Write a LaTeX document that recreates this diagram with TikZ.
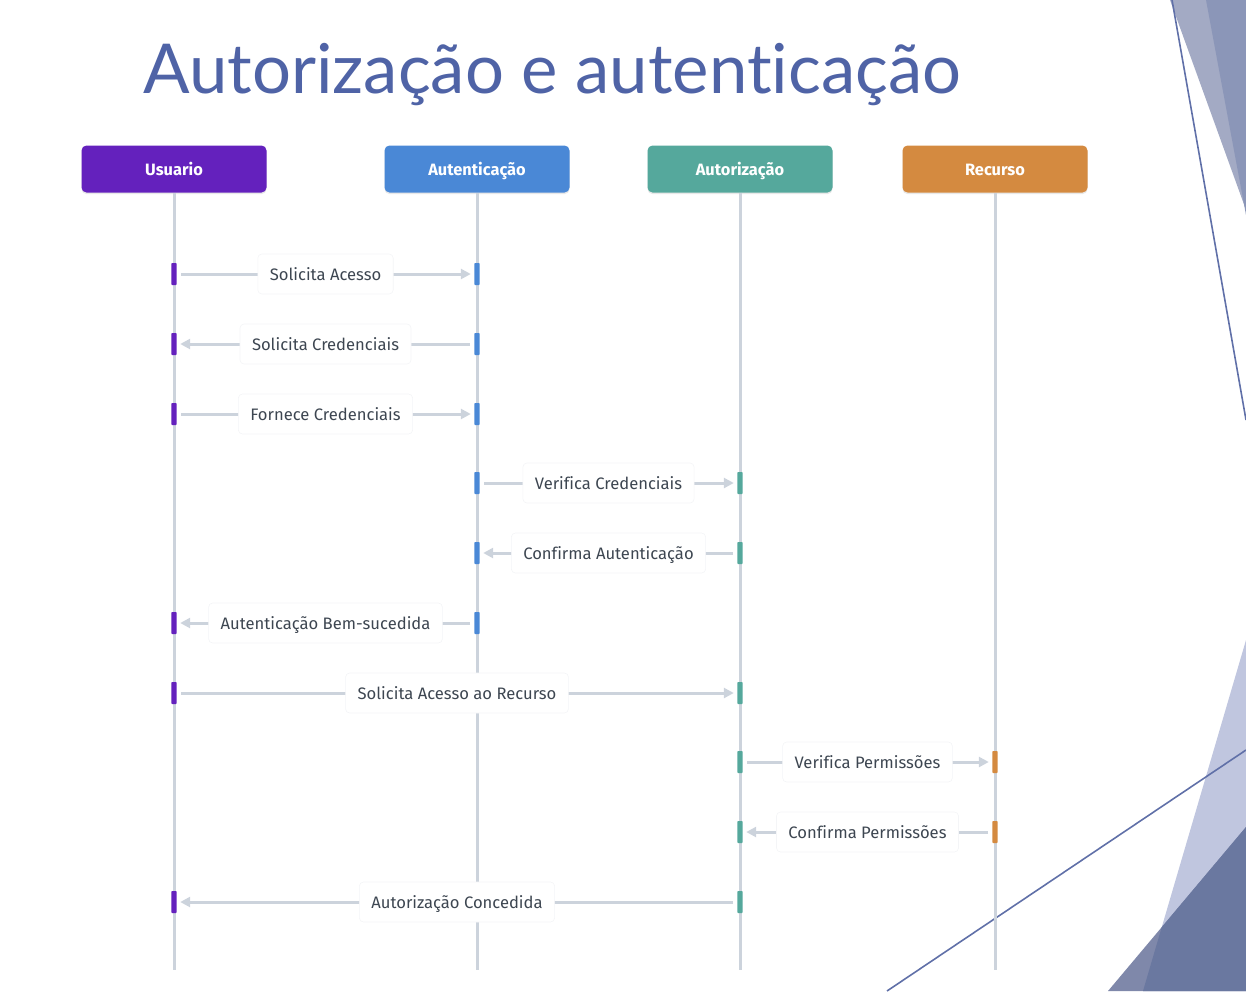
\documentclass[tikz,border=0pt]{standalone}
\usepackage{fontspec}
\setmainfont[Ligatures=NoCommon]{Fira Sans}
\newfontfamily\titlefont[Ligatures=NoCommon,Contextuals=NoAlternate]{Lato}
\usetikzlibrary{arrows.meta,shadows}

\definecolor{usrcol}{HTML}{6421BD}
\definecolor{autcol}{HTML}{4A88D6}
\definecolor{auzcol}{HTML}{55A89C}
\definecolor{reccol}{HTML}{D48A40}
\definecolor{linecol}{HTML}{CCD3DC}
\definecolor{txtcol}{HTML}{3D4651}
\definecolor{titlecol}{HTML}{4F63A6}
\definecolor{decolight}{HTML}{A3AAC4}
\definecolor{decodark}{HTML}{8B96B8}
\definecolor{decopale}{HTML}{C0C6DF}
\definecolor{decodeep}{HTML}{6A78A0}
\definecolor{decomid}{HTML}{7F88AA}
\definecolor{decoline}{HTML}{6070A8}
\definecolor{boxedge}{HTML}{F4F5F7}

\begin{document}
\begin{tikzpicture}[x=0.5pt,y=-0.5pt,
  head/.style={rounded corners=2.5pt, minimum width=92.5pt, minimum height=23.5pt, text=white,
    text height=1.6ex, text depth=0.3ex,
    font=\bfseries\fontsize{8.2}{10}\selectfont, drop shadow={opacity=0.18, shadow xshift=0pt, shadow yshift=-0.8pt}},
  life/.style={draw=linecol, line width=1.5pt},
  bar/.style={inner sep=0pt, minimum width=2.6pt, minimum height=11pt, rounded corners=0.4pt},
  msg/.style={draw=linecol, line width=1.5pt, -{Triangle[length=5pt,width=5pt]}, shorten <=2pt, shorten >=1.6pt},
  lbl/.style={fill=white, draw=boxedge, line width=0.3pt, rounded corners=2pt, text=txtcol, inner xsep=6pt, inner ysep=5pt,
    text height=1.6ex, text depth=0.3ex, font=\fontsize{8.3}{10}\selectfont}]

\useasboundingbox (0,0) rectangle (1246,991);

% slide decoration
\fill[decolight] (1170,0) -- (1246,0) -- (1246,210) -- cycle;
\fill[decodark] (1206,0) -- (1246,0) -- (1246,215) -- cycle;
\draw[decoline, line width=0.8pt] (1172,0) -- (1246,420);
\fill[decopale] (1246,640) -- (1246,991) -- (1143,991) -- cycle;
\fill[decomid] (1246,827) -- (1246,991) -- (1108,991) -- cycle;
\begin{scope}
\clip (1246,640) -- (1246,991) -- (1143,991) -- cycle;
\fill[decodeep] (1246,827) -- (1246,991) -- (1108,991) -- cycle;
\end{scope}
\draw[decoline, line width=0.8pt] (887,991) -- (1246,750);

% title
\node[anchor=base west, inner sep=0pt, text=titlecol] (title) at (143,93)
  {\resizebox{409pt}{!}{\titlefont Autorização e autent\kern0pt icação}};

% participants
\node[head, fill=usrcol] (usr) at (174,169) {Usuario};
\node[head, fill=autcol] (aut) at (477,169) {Autenticação};
\node[head, fill=auzcol] (auz) at (740,169) {Autorização};
\node[head, fill=reccol] (rec) at (995,169) {Recurso};

\coordinate (usr-end) at (174,970);
\coordinate (aut-end) at (477,970);
\coordinate (auz-end) at (740,970);
\coordinate (rec-end) at (995,970);

\draw[life] (usr.south) -- (usr-end);
\draw[life] (aut.south) -- (aut-end);
\draw[life] (auz.south) -- (auz-end);
\draw[life] (rec.south) -- (rec-end);

% activation bars
\node[bar, fill=usrcol] (b1s) at (174,274) {};
\node[bar, fill=autcol] (b1t) at (477,274) {};
\node[bar, fill=autcol] (b2s) at (477,344) {};
\node[bar, fill=usrcol] (b2t) at (174,344) {};
\node[bar, fill=usrcol] (b3s) at (174,414) {};
\node[bar, fill=autcol] (b3t) at (477,414) {};
\node[bar, fill=autcol] (b4s) at (477,483) {};
\node[bar, fill=auzcol] (b4t) at (740,483) {};
\node[bar, fill=auzcol] (b5s) at (740,553) {};
\node[bar, fill=autcol] (b5t) at (477,553) {};
\node[bar, fill=autcol] (b6s) at (477,623) {};
\node[bar, fill=usrcol] (b6t) at (174,623) {};
\node[bar, fill=usrcol] (b7s) at (174,693) {};
\node[bar, fill=auzcol] (b7t) at (740,693) {};
\node[bar, fill=auzcol] (b8s) at (740,762) {};
\node[bar, fill=reccol] (b8t) at (995,762) {};
\node[bar, fill=reccol] (b9s) at (995,832) {};
\node[bar, fill=auzcol] (b9t) at (740,832) {};
\node[bar, fill=auzcol] (b10s) at (740,902) {};
\node[bar, fill=usrcol] (b10t) at (174,902) {};

% messages
\draw[msg] (b1s) -- node[lbl] {Solicita Acesso} (b1t);
\draw[msg] (b2s) -- node[lbl] {Solicita Credenciais} (b2t);
\draw[msg] (b3s) -- node[lbl] {Fornece Credenciais} (b3t);
\draw[msg] (b4s) -- node[lbl] {Verifica Credenciais} (b4t);
\draw[msg] (b5s) -- node[lbl] {Confirma Autenticação} (b5t);
\draw[msg] (b6s) -- node[lbl] {Autenticação Bem-sucedida} (b6t);
\draw[msg] (b7s) -- node[lbl] {Solicita Acesso ao Recurso} (b7t);
\draw[msg] (b8s) -- node[lbl] {Verifica Permissões} (b8t);
\draw[msg] (b9s) -- node[lbl] {Confirma Permissões} (b9t);
\draw[msg] (b10s) -- node[lbl] {Autorização Concedida} (b10t);

\end{tikzpicture}
\end{document}
